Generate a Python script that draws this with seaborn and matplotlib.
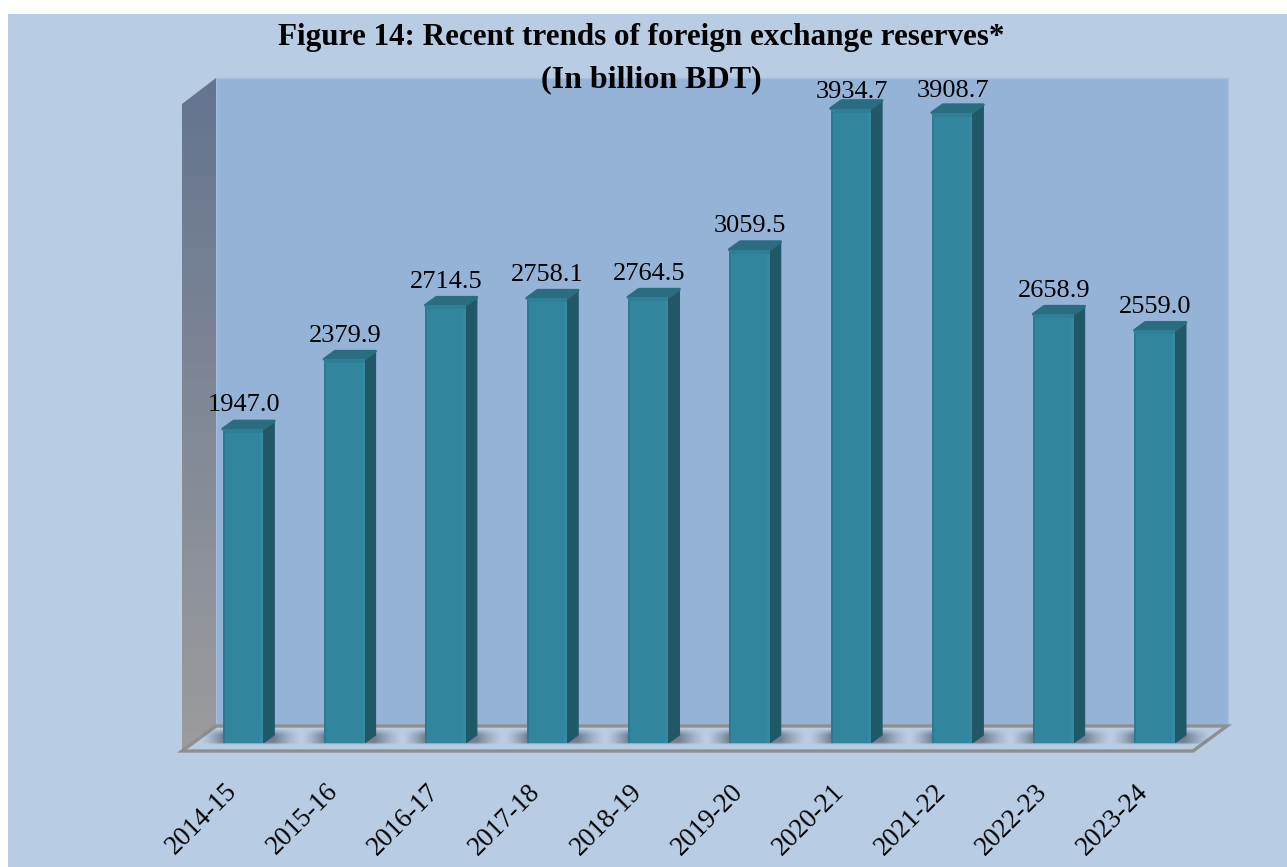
import numpy as np
import pandas as pd
import matplotlib
matplotlib.use('Agg')
import matplotlib.pyplot as plt
import seaborn as sns
from matplotlib.patches import Polygon, Rectangle
from matplotlib.colors import to_rgb
from matplotlib.transforms import ScaledTranslation

years = ['2014-15', '2015-16', '2016-17', '2017-18', '2018-19',
         '2019-20', '2020-21', '2021-22', '2022-23', '2023-24']
reserves = [1947.0, 2379.9, 2714.5, 2758.1, 2764.5,
            3059.5, 3934.7, 3908.7, 2658.9, 2559.0]
# the tallest label sits lower so it stays inside the wall
label_lift = [17, 17, 17, 17, 17, 17, 12, 15.5, 17, 17]

W, H = 1287, 867
sns.set_theme(style='white')
plt.rcParams['font.family'] = ['Liberation Serif', 'DejaVu Serif']

fig = plt.figure(figsize=(W / 100, H / 100), dpi=100, facecolor='white')

# backdrop in pixel coordinates
bg = fig.add_axes([0, 0, 1, 1], zorder=0)
bg.set_xlim(0, W)
bg.set_ylim(H, 0)
bg.axis('off')
bg.add_patch(Rectangle((8, 14), W - 8, H - 14, fc='#B8CCE4', ec='none'))
bg.add_patch(Rectangle((216, 78), 1012, 648, fc='#95B3D7', ec='#A5BFDD', lw=1))

top_c = np.array(to_rgb('#64748F'))
bot_c = np.array(to_rgb('#9C9C9E'))
grad = np.linspace(0, 1, 256)[:, None, None] * (bot_c - top_c) + top_c
im = bg.imshow(grad, extent=(182, 216, 750, 78), aspect='auto', zorder=1)
im.set_clip_path(Polygon([(182, 104), (216, 78), (216, 726), (182, 750)],
                         transform=bg.transData))
bg.set_xlim(0, W)
bg.set_ylim(H, 0)

bg.add_patch(Polygon([(182, 751), (216, 726), (1227, 726), (1193, 751)],
                     fc='#B8CCE4', ec='#8F8F8F', lw=2.4, joinstyle='miter', zorder=2))

# main axes, sized so the categories and values land on the bars
ax = fig.add_axes([192.35 / W, (H - 743) / H, 1013 / W, 709.5 / H], zorder=2)
ax.patch.set_alpha(0)
df = pd.DataFrame({'year': years, 'reserves': reserves})
sns.barplot(data=df, x='year', y='reserves', color='#31859C', saturation=1,
            width=0.4, ax=ax, zorder=4)
ax.set_xlim(-0.5, 9.5)
ax.set_ylim(0, 4400)
ax.set(xlabel='', ylabel='')
ax.set_yticks([])
sns.despine(ax=ax, left=True, bottom=True)
ax.tick_params(axis='x', length=0, pad=26, labelsize=19.3)
shift = ScaledTranslation(-19 / 100, 0, fig.dpi_scale_trans)
for lab in ax.get_xticklabels():
    lab.set(rotation=45, ha='right', rotation_mode='anchor', color='black')
    lab.set_transform(lab.get_transform() + shift)

to_data = ax.transData.inverted()
ox, oy = ax.transData.transform((0, 0))
dx = to_data.transform((ox + 11, oy))[0]
dy = to_data.transform((ox, oy + 8))[1]
px = to_data.transform((ox + 1, oy))[0]

shadow_c = to_rgb('#46505E')
for bar, val, lift in zip(ax.patches, reserves, label_lift):
    x0 = bar.get_x()
    x1 = x0 + bar.get_width()
    bar.set_edgecolor('none')

    # floor shadow, drawn on the backdrop
    (sx0, _), (sx1, _) = ax.transData.transform([(x0, 0), (x1, 0)])
    xs = np.arange(sx0 - 22, sx1 + 38)
    ys = np.linspace(0, 1, 24)
    fall = np.clip(np.maximum((sx0 - xs) / 22, (xs - sx1 - 11) / 26), 0, 1)
    alpha = np.outer(np.clip(ys * 2.5, 0, 1) * np.clip((1 - ys) * 7, 0, 1),
                     (1 - fall) ** 1.3) * 0.62
    rgba = np.zeros((24, len(xs), 4))
    rgba[..., :3] = shadow_c
    rgba[..., 3] = alpha
    bg.imshow(rgba, extent=(xs[0], xs[-1], 745, 728), aspect='auto', zorder=3)

    # front face shading and the 3d side and top
    ax.add_patch(Rectangle((x0, 0), 2 * px, val, fc='#2B7A92', ec='none', zorder=5))
    ax.add_patch(Rectangle((x1 - 3 * px, 0), 3 * px, val, fc='#3589A2', ec='none', zorder=5))
    ax.add_patch(Rectangle((x0, val - dy * 0.5), x1 - x0, dy * 0.5, fc='#2E7E96',
                           ec='none', zorder=5))
    ax.add_patch(Polygon([(x1, 0), (x1 + dx, dy), (x1 + dx, val + dy), (x1, val)],
                         fc='#205867', ec='#205867', lw=0.8, joinstyle='round', zorder=4))
    ax.add_patch(Polygon([(x0, val), (x0 + dx, val + dy), (x1 + dx, val + dy), (x1, val)],
                         fc='#2A6D80', ec='#2A6D80', lw=2, joinstyle='round', zorder=4))
    ax.annotate(f'{val:.1f}', (bar.get_x() + bar.get_width() / 2, val),
                xytext=(0.5, lift), textcoords='offset points',
                ha='center', va='center', fontsize=19, color='black', zorder=6)

bg.set_xlim(0, W)
bg.set_ylim(H, 0)

bg.text(641, 37, 'Figure 14: Recent trends of foreign exchange reserves*',
        ha='center', va='center', fontsize=22.4, fontweight='bold', color='black', zorder=9)
fig.text(651.5 / W, 1 - 80 / H, '(In billion BDT)', ha='center', va='center',
         fontsize=23, fontweight='bold', color='black', zorder=9)

fig.savefig('out.png', dpi=100, facecolor='white')
